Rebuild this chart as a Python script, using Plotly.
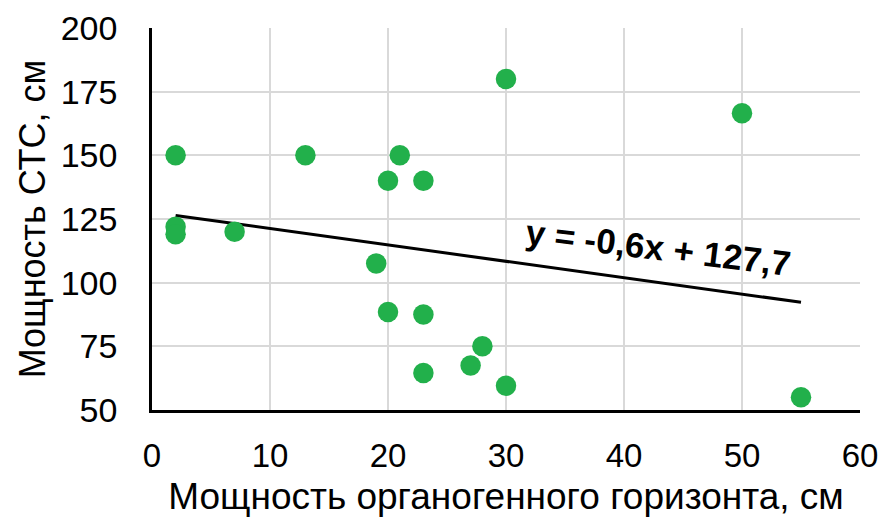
import plotly.graph_objects as go

# Data
organic_cm = [30, 2, 13, 21, 20, 23, 2, 2, 7, 19, 20, 23, 28, 27, 23, 30, 50, 55]
sts_cm = [180, 150, 150, 150, 140, 140, 122, 119, 120, 107.5, 88.5, 87.5, 75, 67.5, 64.5, 59.5, 166.5, 55]

trend_x = [2, 55]
trend_y = [126.4, 92.3]

x_ticks = [0, 10, 20, 30, 40, 50, 60]
y_ticks = [50, 75, 100, 125, 150, 175, 200]

equation = "y = -0,6x + 127,7"
x_title = "Мощность органогенного горизонта, см"
y_title = "Мощность СТС, см"

FONT = "Liberation Sans, Arial, sans-serif"

fig = go.Figure()
fig.add_trace(go.Scatter(
    x=trend_x, y=trend_y, mode="lines",
    line=dict(color="black", width=3),
    showlegend=False, hoverinfo="skip",
))
fig.add_trace(go.Scatter(
    x=organic_cm, y=sts_cm, mode="markers",
    marker=dict(color="#22b04b", size=20.5, line=dict(width=0)),
    showlegend=False,
))

fig.add_annotation(
    x=42.9, y=114, xref="x", yref="y",
    text="<b>" + equation + "</b>", showarrow=False,
    textangle=7, font=dict(family=FONT, size=35, color="black"),
)

fig.update_layout(
    width=882, height=519,
    margin=dict(l=152, r=22, t=28, b=109, autoexpand=False),
    paper_bgcolor="white", plot_bgcolor="white",
    font=dict(family=FONT, color="black"),
)
fig.update_xaxes(
    range=[0, 60], tickvals=x_ticks, ticktext=[str(v) for v in x_ticks],
    showgrid=True, gridcolor="#d9d9d9", gridwidth=1.5,
    showline=True, linecolor="black", linewidth=2.5,
    zeroline=False, ticks="", ticklabelstandoff=15,
    tickfont=dict(family=FONT, size=33, color="black"),
    title=dict(text=x_title, font=dict(family=FONT, size=37, color="black"), standoff=10),
)
fig.update_yaxes(
    range=[50, 200], tickvals=y_ticks, ticktext=[str(v) for v in y_ticks],
    showgrid=True, gridcolor="#d9d9d9", gridwidth=1.5,
    showline=True, linecolor="black", linewidth=2.5,
    zeroline=False, ticks="", ticklabelstandoff=25,
    tickfont=dict(family=FONT, size=34, color="black"),
    title=dict(text=y_title, font=dict(family=FONT, size=36, color="black"), standoff=5),
)

fig.write_html("out.html")
